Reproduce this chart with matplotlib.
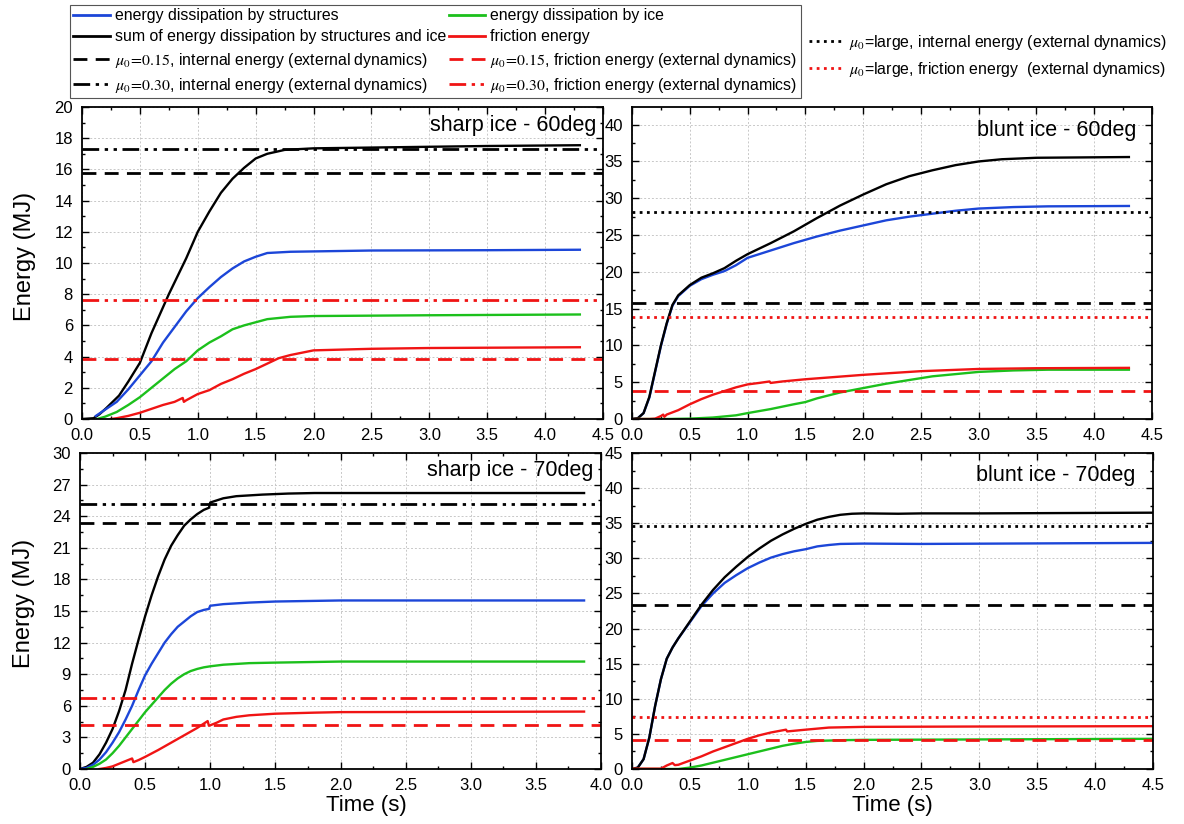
import matplotlib
import numpy as np

matplotlib.use("Agg")

from matplotlib import pyplot as plt
from matplotlib.lines import Line2D
from matplotlib.ticker import FormatStrFormatter, MultipleLocator

plt.rcParams["font.family"] = ["Liberation Sans", "DejaVu Sans"]
plt.rcParams["mathtext.fontset"] = "stix"

BLUE = "#1c46d8"
GREEN = "#1cc01c"
RED = "#f01414"
BLACK = "#000000"

# ---- sharp ice - 60deg ----
S60_T_SUM = [0.0, 0.1, 0.15, 0.21, 0.32, 0.4, 0.5, 0.6, 0.75, 0.9, 1.0, 1.1, 1.2, 1.3, 1.4, 1.5, 1.6, 1.75, 2.0, 2.5, 3.0, 3.5, 4.3]
S60_SUM = [0.0, 0.05, 0.3, 0.7, 1.5, 2.4, 3.6, 5.5, 8.0, 10.3, 12.0, 13.3, 14.5, 15.4, 16.1, 16.7, 17.0, 17.25, 17.35, 17.4, 17.45, 17.5, 17.55]
S60_T_STR = [0.12, 0.2, 0.3, 0.4, 0.5, 0.6, 0.7, 0.8, 0.9, 1.0, 1.1, 1.2, 1.3, 1.4, 1.5, 1.6, 1.8, 2.5, 3.5, 4.3]
S60_STR = [0.2, 0.6, 1.1, 1.9, 2.8, 3.7, 4.9, 5.9, 6.9, 7.75, 8.45, 9.1, 9.65, 10.1, 10.4, 10.64, 10.72, 10.8, 10.82, 10.85]
S60_T_ICE = [0.13, 0.2, 0.3, 0.4, 0.5, 0.6, 0.7, 0.8, 0.9, 1.0, 1.1, 1.2, 1.3, 1.4, 1.5, 1.6, 1.8, 2.0, 3.0, 4.3]
S60_ICE = [0.0, 0.15, 0.45, 0.9, 1.4, 2.0, 2.6, 3.2, 3.7, 4.4, 4.9, 5.3, 5.75, 6.0, 6.2, 6.4, 6.55, 6.6, 6.65, 6.7]
S60_T_FRI = [0.25, 0.3, 0.4, 0.5, 0.6, 0.7, 0.8, 0.87, 0.88, 0.9, 1.0, 1.1, 1.2, 1.3, 1.4, 1.5, 1.6, 1.7, 1.8, 2.0, 2.5, 3.0, 4.3]
S60_FRI = [0.0, 0.05, 0.2, 0.4, 0.65, 0.9, 1.1, 1.35, 1.1, 1.2, 1.6, 1.85, 2.25, 2.55, 2.9, 3.2, 3.55, 3.9, 4.1, 4.4, 4.5, 4.55, 4.6]
S60_REF = {"mu30_int": 17.3, "mu15_int": 15.8, "mu30_fri": 7.65, "mu15_fri": 3.85}

# ---- blunt ice - 60deg ----
B60_T_SUM = [0.0, 0.05, 0.1, 0.15, 0.2, 0.25, 0.3, 0.35, 0.4, 0.5, 0.6, 0.7, 0.8, 0.9, 1.0, 1.2, 1.4, 1.6, 1.8, 2.0, 2.2, 2.4, 2.6, 2.8, 3.0, 3.2, 3.5, 4.3]
B60_SUM = [0.0, 0.1, 0.8, 3.0, 6.5, 10.0, 13.0, 15.5, 16.8, 18.2, 19.2, 19.8, 20.5, 21.5, 22.4, 23.9, 25.5, 27.3, 29.0, 30.5, 31.9, 33.0, 33.8, 34.5, 35.0, 35.3, 35.5, 35.6]
B60_T_STR = [0.0, 0.05, 0.1, 0.15, 0.2, 0.25, 0.3, 0.35, 0.4, 0.5, 0.6, 0.7, 0.8, 0.9, 1.0, 1.2, 1.4, 1.6, 1.8, 2.0, 2.2, 2.4, 2.6, 2.8, 3.0, 3.3, 3.6, 4.3]
B60_STR = [0.0, 0.1, 0.8, 2.9, 6.4, 9.9, 12.9, 15.4, 16.7, 18.1, 19.0, 19.6, 20.1, 20.9, 21.9, 22.9, 23.9, 24.8, 25.6, 26.3, 27.0, 27.5, 27.9, 28.3, 28.6, 28.8, 28.9, 28.95]
B60_T_ICE = [0.0, 0.3, 0.5, 0.7, 0.9, 1.0, 1.2, 1.4, 1.5, 1.6, 1.8, 2.0, 2.2, 2.4, 2.6, 2.8, 3.0, 3.3, 3.6, 4.3]
B60_ICE = [0.0, 0.0, 0.05, 0.2, 0.5, 0.8, 1.35, 2.0, 2.3, 2.8, 3.6, 4.2, 4.8, 5.3, 5.8, 6.1, 6.4, 6.6, 6.7, 6.7]
B60_T_FRI = [0.0, 0.15, 0.2, 0.25, 0.27, 0.28, 0.3, 0.35, 0.4, 0.5, 0.6, 0.7, 0.8, 0.9, 1.0, 1.1, 1.19, 1.2, 1.3, 1.5, 2.0, 2.5, 3.0, 3.5, 4.3]
B60_FRI = [0.0, 0.0, 0.05, 0.4, 0.6, 0.3, 0.6, 0.9, 1.2, 2.0, 2.7, 3.3, 3.8, 4.3, 4.7, 4.9, 5.1, 4.9, 5.1, 5.4, 6.0, 6.5, 6.8, 6.9, 6.95]
B60_REF = {"large_int": 28.1, "mu15_int": 15.8, "large_fri": 13.9, "mu15_fri": 3.8}

# ---- sharp ice - 70deg ----
S70_T_SUM = [0.0, 0.05, 0.1, 0.15, 0.2, 0.25, 0.3, 0.35, 0.4, 0.45, 0.5, 0.55, 0.6, 0.65, 0.7, 0.75, 0.8, 0.85, 0.9, 0.95, 0.99, 1.0, 1.05, 1.1, 1.2, 1.4, 1.6, 1.8, 2.0, 3.87]
S70_SUM = [0.0, 0.2, 0.6, 1.4, 2.5, 3.8, 5.5, 7.5, 10.0, 12.3, 14.5, 16.5, 18.3, 19.9, 21.2, 22.2, 23.1, 23.7, 24.2, 24.6, 24.8, 25.3, 25.5, 25.7, 25.9, 26.05, 26.15, 26.2, 26.2, 26.2]
S70_T_STR = [0.0, 0.05, 0.1, 0.15, 0.2, 0.25, 0.3, 0.35, 0.4, 0.45, 0.5, 0.55, 0.6, 0.65, 0.7, 0.75, 0.8, 0.85, 0.9, 0.95, 0.99, 1.0, 1.1, 1.3, 1.5, 2.0, 3.87]
S70_STR = [0.0, 0.1, 0.4, 0.9, 1.6, 2.5, 3.5, 4.7, 6.0, 7.5, 8.9, 10.0, 11.0, 12.0, 12.8, 13.5, 14.0, 14.5, 14.9, 15.1, 15.2, 15.5, 15.65, 15.8, 15.9, 16.0, 16.0]
S70_T_ICE = [0.05, 0.1, 0.15, 0.2, 0.25, 0.3, 0.35, 0.4, 0.45, 0.5, 0.55, 0.6, 0.65, 0.7, 0.75, 0.8, 0.85, 0.9, 0.95, 1.0, 1.1, 1.3, 1.5, 2.0, 3.87]
S70_ICE = [0.0, 0.2, 0.5, 0.9, 1.5, 2.2, 3.0, 3.8, 4.6, 5.4, 6.1, 6.8, 7.5, 8.1, 8.6, 9.0, 9.3, 9.5, 9.65, 9.75, 9.9, 10.05, 10.1, 10.2, 10.2]
S70_T_FRI = [0.15, 0.2, 0.25, 0.3, 0.35, 0.4, 0.41, 0.45, 0.5, 0.6, 0.7, 0.8, 0.9, 0.98, 0.99, 1.05, 1.1, 1.2, 1.3, 1.5, 1.8, 2.0, 3.87]
S70_FRI = [0.0, 0.1, 0.25, 0.5, 0.75, 1.0, 0.65, 0.85, 1.15, 1.8, 2.5, 3.2, 3.9, 4.55, 4.1, 4.4, 4.7, 4.95, 5.1, 5.25, 5.35, 5.4, 5.45]
S70_REF = {"mu30_int": 25.2, "mu15_int": 23.4, "mu30_fri": 6.7, "mu15_fri": 4.2}

# ---- blunt ice - 70deg ----
B70_T_SUM = [0.0, 0.05, 0.1, 0.15, 0.2, 0.25, 0.3, 0.35, 0.4, 0.5, 0.6, 0.7, 0.8, 0.9, 1.0, 1.1, 1.2, 1.3, 1.4, 1.5, 1.6, 1.7, 1.8, 1.9, 2.0, 2.3, 2.5, 3.0, 4.5]
B70_SUM = [0.0, 0.2, 1.4, 4.5, 9.0, 12.8, 15.7, 17.3, 18.6, 21.0, 23.4, 25.5, 27.3, 28.8, 30.2, 31.4, 32.5, 33.4, 34.2, 34.9, 35.5, 35.9, 36.2, 36.35, 36.4, 36.35, 36.4, 36.4, 36.5]
B70_T_STR = [0.0, 0.05, 0.1, 0.15, 0.2, 0.25, 0.3, 0.35, 0.4, 0.5, 0.6, 0.7, 0.8, 0.9, 1.0, 1.1, 1.2, 1.3, 1.4, 1.5, 1.6, 1.7, 1.8, 2.0, 2.5, 4.5]
B70_STR = [0.0, 0.2, 1.4, 4.5, 9.0, 12.8, 15.7, 17.3, 18.6, 20.9, 23.2, 25.0, 26.5, 27.6, 28.6, 29.4, 30.1, 30.6, 31.0, 31.3, 31.7, 31.9, 32.05, 32.1, 32.05, 32.2]
B70_T_ICE = [0.0, 0.4, 0.5, 0.6, 0.7, 0.8, 0.9, 1.0, 1.1, 1.2, 1.3, 1.4, 1.5, 1.6, 1.8, 2.0, 4.5]
B70_ICE = [0.0, 0.0, 0.2, 0.5, 0.9, 1.3, 1.7, 2.1, 2.5, 2.9, 3.3, 3.6, 3.85, 4.0, 4.1, 4.15, 4.3]
B70_T_FRI = [0.0, 0.2, 0.25, 0.3, 0.35, 0.37, 0.4, 0.5, 0.6, 0.7, 0.8, 0.9, 1.0, 1.1, 1.2, 1.33, 1.34, 1.5, 1.7, 2.0, 3.0, 4.5]
B70_FRI = [0.05, 0.05, 0.05, 0.5, 0.85, 0.55, 0.6, 1.2, 1.8, 2.5, 3.1, 3.7, 4.3, 4.8, 5.2, 5.6, 5.35, 5.6, 5.9, 6.0, 6.05, 6.1]
B70_REF = {"large_int": 34.6, "mu15_int": 23.4, "large_fri": 7.4, "mu15_fri": 4.2}

DASH = (0, (5, 3))
DASH_DOT_DOT = (0, (6, 2, 1.2, 2, 1.2, 2))
DOT = (0, (1, 1.6))

REF_STYLES = {
    "mu15_int": (BLACK, DASH),
    "mu30_int": (BLACK, DASH_DOT_DOT),
    "large_int": (BLACK, DOT),
    "mu15_fri": (RED, DASH),
    "mu30_fri": (RED, DASH_DOT_DOT),
    "large_fri": (RED, DOT),
}

W, H = 1184, 824


def px_axes(fig, left, top, right, bottom):
    return fig.add_axes([left / W, 1 - bottom / H, (right - left) / W, (bottom - top) / H])


def style_axis(ax, xmax, ymax, ymajor, xlabel):
    ax.set_xlim(0, xmax)
    ax.set_ylim(0, ymax)
    ax.xaxis.set_major_locator(MultipleLocator(0.5))
    ax.xaxis.set_minor_locator(MultipleLocator(0.25))
    ax.yaxis.set_major_locator(MultipleLocator(ymajor))
    ax.yaxis.set_minor_locator(MultipleLocator(ymajor / 2))
    ax.xaxis.set_major_formatter(FormatStrFormatter("%.1f"))
    ax.tick_params(which="both", direction="in", top=True, right=True, labelsize=12, width=1.0)
    ax.tick_params(axis="x", which="major", pad=6.5)
    ax.tick_params(axis="y", which="major", pad=6.5)
    ax.tick_params(which="major", length=5)
    ax.tick_params(which="minor", length=2.5)
    ax.grid(True, which="major", color="#c8c8c8", linestyle=(0, (2, 2)), linewidth=0.7)
    for spine in ax.spines.values():
        spine.set_linewidth(1.3)
    if xlabel:
        ax.set_xlabel("Time (s)", fontsize=16)


def draw_panel(ax, series, refs, title, title_pos):
    for t, e, color in series:
        ax.plot(t, e, color=color, linewidth=1.7, solid_joinstyle="round")
    for key, value in refs.items():
        color, style = REF_STYLES[key]
        ax.axhline(value, color=color, linestyle=style, linewidth=2.0)
    ax.text(title_pos[0], title_pos[1], title, transform=ax.transAxes, ha="right", va="center", fontsize=15.5)


fig = plt.figure(figsize=(W / 100, H / 100), dpi=100)

ax_tl = px_axes(fig, 82, 107, 603, 419)
ax_tr = px_axes(fig, 632, 107, 1152, 419)
ax_bl = px_axes(fig, 80, 453, 601, 769)
ax_br = px_axes(fig, 632, 453, 1153, 769)

style_axis(ax_tl, 4.5, 20, 2, False)
style_axis(ax_tr, 4.5, 42.4, 5, False)
style_axis(ax_bl, 4.0, 30, 3, True)
style_axis(ax_br, 4.5, 45, 5, True)

draw_panel(ax_tl, [(S60_T_SUM, S60_SUM, BLACK), (S60_T_STR, S60_STR, BLUE), (S60_T_ICE, S60_ICE, GREEN), (S60_T_FRI, S60_FRI, RED)],
           S60_REF, "sharp ice - 60deg", (0.988, 0.94))
draw_panel(ax_tr, [(B60_T_STR, B60_STR, BLUE), (B60_T_SUM, B60_SUM, BLACK), (B60_T_ICE, B60_ICE, GREEN), (B60_T_FRI, B60_FRI, RED)],
           B60_REF, "blunt ice - 60deg", (0.97, 0.925))
draw_panel(ax_bl, [(S70_T_SUM, S70_SUM, BLACK), (S70_T_STR, S70_STR, BLUE), (S70_T_ICE, S70_ICE, GREEN), (S70_T_FRI, S70_FRI, RED)],
           S70_REF, "sharp ice - 70deg", (0.985, 0.946))
draw_panel(ax_br, [(B70_T_STR, B70_STR, BLUE), (B70_T_SUM, B70_SUM, BLACK), (B70_T_ICE, B70_ICE, GREEN), (B70_T_FRI, B70_FRI, RED)],
           B70_REF, "blunt ice - 70deg", (0.967, 0.93))

ax_tl.set_ylabel("Energy (MJ)", fontsize=17)
ax_tl.yaxis.set_label_coords(-0.089, 0.52)
ax_bl.set_ylabel("Energy (MJ)", fontsize=17)
ax_bl.yaxis.set_label_coords(-0.086, 0.524)
ax_bl.xaxis.set_label_coords(0.55, -0.083)
ax_br.xaxis.set_label_coords(0.5, -0.083)

# legend in a box (column-major order: left column then right column)
legend_handles = [
    Line2D([], [], color=BLUE, linewidth=2),
    Line2D([], [], color=BLACK, linewidth=2),
    Line2D([], [], color=BLACK, linestyle=DASH, linewidth=2),
    Line2D([], [], color=BLACK, linestyle=DASH_DOT_DOT, linewidth=2),
    Line2D([], [], color=GREEN, linewidth=2),
    Line2D([], [], color=RED, linewidth=2),
    Line2D([], [], color=RED, linestyle=DASH, linewidth=2),
    Line2D([], [], color=RED, linestyle=DASH_DOT_DOT, linewidth=2),
]
legend_labels = [
    "energy dissipation by structures",
    "sum of energy dissipation by structures and ice",
    r"$\mu_0\!=\!0.15$, internal energy (external dynamics)",
    r"$\mu_0\!=\!0.30$, internal energy (external dynamics)",
    "energy dissipation by ice",
    "friction energy",
    r"$\mu_0\!=\!0.15$, friction energy (external dynamics)",
    r"$\mu_0\!=\!0.30$, friction energy (external dynamics)",
]
box = fig.legend(legend_handles, legend_labels, ncol=2, loc="upper left", bbox_to_anchor=(70 / W, 1 - 5 / H),
                 fontsize=11.4, frameon=True, fancybox=False, edgecolor="#555555", framealpha=1,
                 handlelength=2.3, handletextpad=0.3, columnspacing=0.2, labelspacing=0.38, borderpad=0.22,
                 borderaxespad=0)
box.get_frame().set_linewidth(0.8)

extra_handles = [
    Line2D([], [], color=BLACK, linestyle=DOT, linewidth=2),
    Line2D([], [], color=RED, linestyle=DOT, linewidth=2),
]
extra_labels = [
    r"$\mu_0$=large, internal energy (external dynamics)",
    r"$\mu_0$=large, friction energy  (external dynamics)",
]
fig.legend(extra_handles, extra_labels, loc="upper left", bbox_to_anchor=(809 / W, 1 - 33 / H), fontsize=11.4,
           frameon=False, handlelength=2.0, handletextpad=0.5, labelspacing=0.5, borderpad=0, borderaxespad=0)

fig.savefig("out.png", dpi=100)
